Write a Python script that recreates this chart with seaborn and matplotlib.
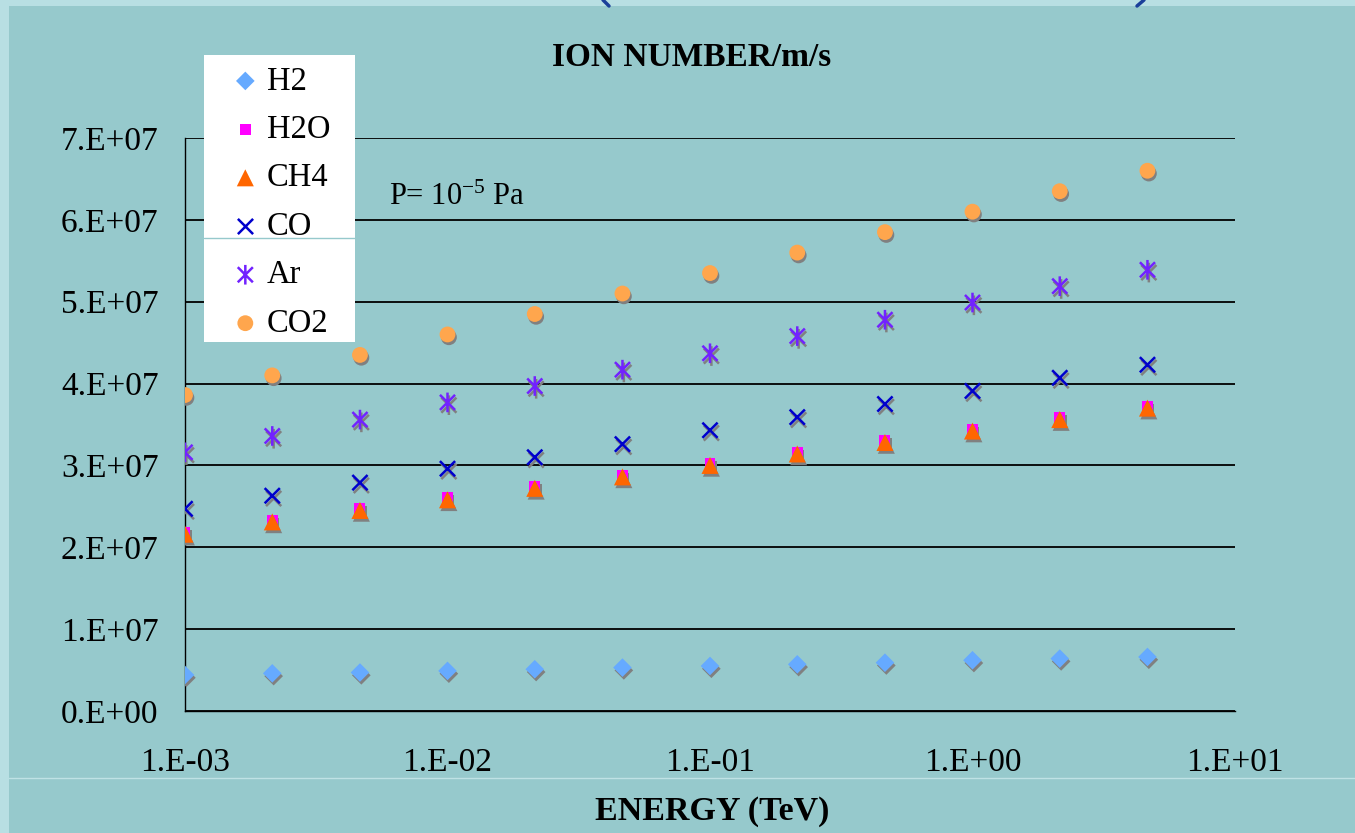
import numpy as np
import seaborn as sns
import matplotlib.pyplot as plt
import matplotlib.patheffects as pe
from matplotlib.path import Path
from matplotlib.patches import Rectangle
from matplotlib.lines import Line2D

# Data (ions per m per s vs beam energy)
energy = [1e-3, 2.15e-3, 4.64e-3, 1e-2, 2.15e-2, 4.64e-2,
          1e-1, 2.15e-1, 4.64e-1, 1.0, 2.15, 4.64]
h2 = [0.44e7, 0.46e7, 0.47e7, 0.49e7, 0.51e7, 0.53e7,
      0.55e7, 0.57e7, 0.59e7, 0.62e7, 0.64e7, 0.66e7]
h2o = [2.18e7, 2.33e7, 2.47e7, 2.61e7, 2.74e7, 2.88e7,
       3.02e7, 3.16e7, 3.30e7, 3.44e7, 3.58e7, 3.72e7]
ch4 = [2.16e7, 2.31e7, 2.45e7, 2.58e7, 2.72e7, 2.86e7,
       3.00e7, 3.14e7, 3.28e7, 3.42e7, 3.56e7, 3.70e7]
co = [2.47e7, 2.63e7, 2.79e7, 2.96e7, 3.10e7, 3.26e7,
      3.43e7, 3.59e7, 3.75e7, 3.91e7, 4.07e7, 4.23e7]
ar = [3.16e7, 3.36e7, 3.56e7, 3.77e7, 3.97e7, 4.17e7,
      4.37e7, 4.58e7, 4.78e7, 4.99e7, 5.19e7, 5.39e7]
co2 = [3.86e7, 4.10e7, 4.35e7, 4.60e7, 4.85e7, 5.10e7,
       5.35e7, 5.60e7, 5.85e7, 6.10e7, 6.35e7, 6.60e7]

names = ['H2', 'H2O', 'CH4', 'CO', 'Ar', 'CO2']
colors = ['#66AAFF', '#FF00FF', '#FF6600', '#0000CC', '#7222FF', '#FFA64D']
yticks = [0, 1e7, 2e7, 3e7, 4e7, 5e7, 6e7, 7e7]
ytick_labels = ['0.E+00', '1.E+07', '2.E+07', '3.E+07', '4.E+07', '5.E+07', '6.E+07', '7.E+07']
xticks = [1e-3, 1e-2, 1e-1, 1e0, 1e1]
xtick_labels = ['1.E-03', '1.E-02', '1.E-01', '1.E+00', '1.E+01']

sns.set_style('white')
plt.rcParams['font.family'] = ['Liberation Serif', 'DejaVu Serif']
plt.rcParams['mathtext.fontset'] = 'custom'
plt.rcParams['mathtext.rm'] = 'Liberation Serif'
plt.rcParams['mathtext.default'] = 'regular'
plt.rcParams['text.color'] = 'black'
plt.rcParams['axes.labelcolor'] = 'black'

bg = '#96C9CC'
W, H = 1355, 833
fig = plt.figure(figsize=(13.55, 8.33), dpi=100, facecolor=bg)
ax = fig.add_axes([185 / W, 1 - 711 / H, 1050 / W, 573 / H])
ax.set_facecolor(bg)

# asterisk marker: x plus a vertical bar
star = Path([(-1, -1), (1, 1), (-1, 1), (1, -1), (0, -1.3), (0, 1.3)],
            [Path.MOVETO, Path.LINETO, Path.MOVETO, Path.LINETO, Path.MOVETO, Path.LINETO])

patch_shadow = [pe.SimplePatchShadow(offset=(1, -2), shadow_rgbFace='#808080', alpha=1), pe.Normal()]
line_shadow = [pe.SimpleLineShadow(offset=(1, -2), shadow_color='#808080', alpha=1), pe.Normal()]

sns.scatterplot(x=energy, y=h2, marker='D', s=90, color=colors[0], edgecolor='none',
                label=names[0], path_effects=patch_shadow, ax=ax, zorder=3)
sns.scatterplot(x=energy, y=h2o, marker='s', s=62, color=colors[1], edgecolor='none',
                label=names[1], path_effects=patch_shadow, ax=ax, zorder=3)
sns.scatterplot(x=energy, y=ch4, marker='^', s=150, color=colors[2], edgecolor='none',
                label=names[2], path_effects=patch_shadow, ax=ax, zorder=3)
sns.scatterplot(x=energy, y=co, marker='x', s=120, color=colors[3], linewidth=1.8,
                label=names[3], path_effects=line_shadow, ax=ax, zorder=3)
sns.scatterplot(x=energy, y=ar, marker=star, s=200, facecolor='none', edgecolor=colors[4],
                linewidth=1.8, label=names[4], path_effects=line_shadow, ax=ax, zorder=3)
sns.scatterplot(x=energy, y=co2, marker='o', s=130, color=colors[5], edgecolor='none',
                label=names[5], path_effects=patch_shadow, ax=ax, zorder=3)

ax.set_xscale('log')
ax.set_xlim(1e-3, 1e1)
ax.set_ylim(0, 7e7)
ax.set_xticks(xticks)
ax.set_xticklabels(xtick_labels)
ax.set_yticks(yticks)
ax.set_yticklabels(ytick_labels)
ax.minorticks_off()
ax.tick_params(axis='both', direction='out', length=7, width=1, color='black',
               labelsize=24, labelcolor='black')
ax.tick_params(axis='x', pad=19)
ax.tick_params(axis='y', pad=12)
ax.yaxis.grid(True, color='black', linewidth=1.3)
ax.set_axisbelow(True)
for side in ['top', 'right']:
    ax.spines[side].set_visible(False)
for side in ['left', 'bottom']:
    ax.spines[side].set_color('black')
    ax.spines[side].set_linewidth(1)

# white legend panel, drawn inside the axes so the legend sits on top of it
ax.add_patch(Rectangle((204 / W, 1 - 342 / H), 151 / W, 287 / H, transform=fig.transFigure,
                       facecolor='white', edgecolor='none', zorder=4, clip_on=False))
ax.add_line(Line2D([204 / W, 355 / W], [1 - 238 / H, 1 - 238 / H], color=bg,
                   linewidth=1, zorder=4.5, transform=fig.transFigure, clip_on=False))
leg = ax.legend(loc='upper left', bbox_to_anchor=(229 / W, 1 - 66 / H),
                bbox_transform=fig.transFigure, borderaxespad=0, borderpad=0,
                fontsize=23.5, frameon=False, handlelength=1.0, handletextpad=0.15,
                labelspacing=0.55)
for h in leg.legend_handles:
    h.set_path_effects([])
leg.set_zorder(5)

fig.text(692 / W, 1 - 66 / H, 'ION NUMBER/m/s', ha='center', va='baseline',
         fontsize=24, fontweight='bold')
fig.text(712 / W, 1 - 820 / H, 'ENERGY (TeV)', ha='center', va='baseline',
         fontsize=24.5, fontweight='bold')
fig.text(389 / W, 1 - 205 / H, 'P= 10$^{-5}$ Pa', ha='left', va='baseline', fontsize=22)

# slide frame remnants
fig.patches.append(Rectangle((0, 0), 9 / W, 1, transform=fig.transFigure,
                             facecolor='#B8DFE3', edgecolor='none', zorder=0))
fig.patches.append(Rectangle((0, 1 - 6 / H), 1, 6 / H, transform=fig.transFigure,
                             facecolor='#B8DFE3', edgecolor='none', zorder=0))
fig.add_artist(Line2D([9 / W, 1], [1 - 778 / H, 1 - 778 / H], color='#BFE2E5', linewidth=1))
fig.add_artist(Line2D([603 / W, 609 / W], [1, 1 - 6 / H], color='#1A3F9A', linewidth=2.5))
fig.add_artist(Line2D([1144 / W, 1137 / W], [1, 1 - 6 / H], color='#1A3F9A', linewidth=2.5))

fig.savefig('out.png', dpi=100, facecolor=bg)
